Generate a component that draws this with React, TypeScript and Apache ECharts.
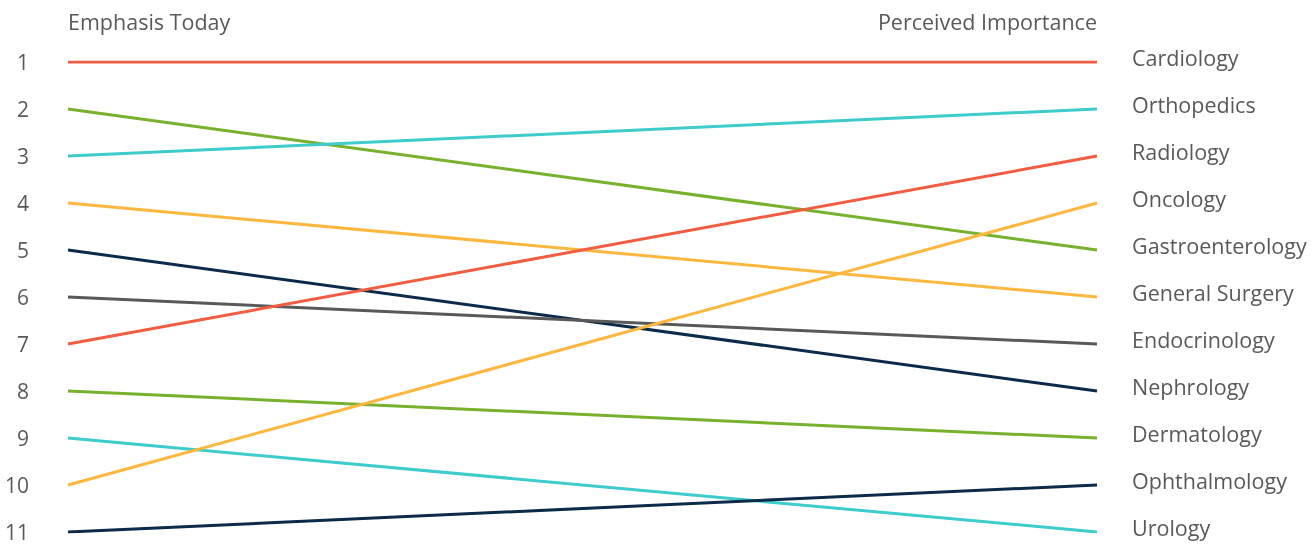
import React, { useEffect, useRef } from "react";
import * as echarts from "echarts";

// Ranking of medical specialties: emphasis today vs. perceived importance
const stages = ["Emphasis Today", "Perceived Importance"];
const specialties = [
  "Cardiology",
  "Gastroenterology",
  "Orthopedics",
  "General Surgery",
  "Nephrology",
  "Endocrinology",
  "Radiology",
  "Dermatology",
  "Urology",
  "Oncology",
  "Ophthalmology",
];
const emphasisRank = [1, 2, 3, 4, 5, 6, 7, 8, 9, 10, 11];
const importanceRank = [1, 5, 2, 6, 8, 7, 3, 9, 11, 4, 10];
const lineColors = [
  "#F25C41",
  "#78B12D",
  "#3DCBCB",
  "#FDB73E",
  "#0C2A4A",
  "#595959",
  "#F25C41",
  "#78B12D",
  "#3DCBCB",
  "#FDB73E",
  "#0C2A4A",
];

const FONT = "'Open Sans', 'Noto Sans', sans-serif";
const TEXT_COLOR = "#595959";

export default function App() {
  const ref = useRef<HTMLDivElement>(null);

  useEffect(() => {
    if (!ref.current) return;
    const chart = echarts.init(ref.current, undefined, { renderer: "svg" });

    const series = specialties.map((name, i) => ({
      name,
      type: "line",
      data: [emphasisRank[i], importanceRank[i]],
      symbol: "none",
      lineStyle: { color: lineColors[i], width: 3 },
      itemStyle: { color: lineColors[i] },
      endLabel: {
        show: true,
        formatter: "{a}",
        distance: 35,
        offset: [0, -5],
        color: TEXT_COLOR,
        fontSize: 21.5,
        fontFamily: FONT,
      },
      emphasis: { disabled: true },
    }));

    chart.setOption({
      animation: false,
      grid: { left: 68, right: 216, top: 62, bottom: 14, containLabel: false },
      xAxis: {
        type: "category",
        data: stages,
        position: "top",
        boundaryGap: false,
        axisLine: { show: false },
        axisTick: { show: false },
        splitLine: { show: false },
        axisLabel: {
          color: TEXT_COLOR,
          fontSize: 21.5,
          fontFamily: FONT,
          margin: 30,
          alignMinLabel: "left",
          alignMaxLabel: "right",
        },
      },
      yAxis: {
        type: "value",
        inverse: true,
        min: 1,
        max: 11,
        interval: 1,
        axisLine: { show: false },
        axisTick: { show: false },
        splitLine: { show: false },
        axisLabel: {
          color: TEXT_COLOR,
          fontSize: 21,
          lineHeight: 18,
          fontFamily: FONT,
          margin: 39,
        },
      },
      series,
    });

    return () => chart.dispose();
  }, []);

  return (
    <div
      ref={ref}
      style={{ position: "fixed", left: 0, top: 0, width: 1313, height: 546 }}
    />
  );
}
